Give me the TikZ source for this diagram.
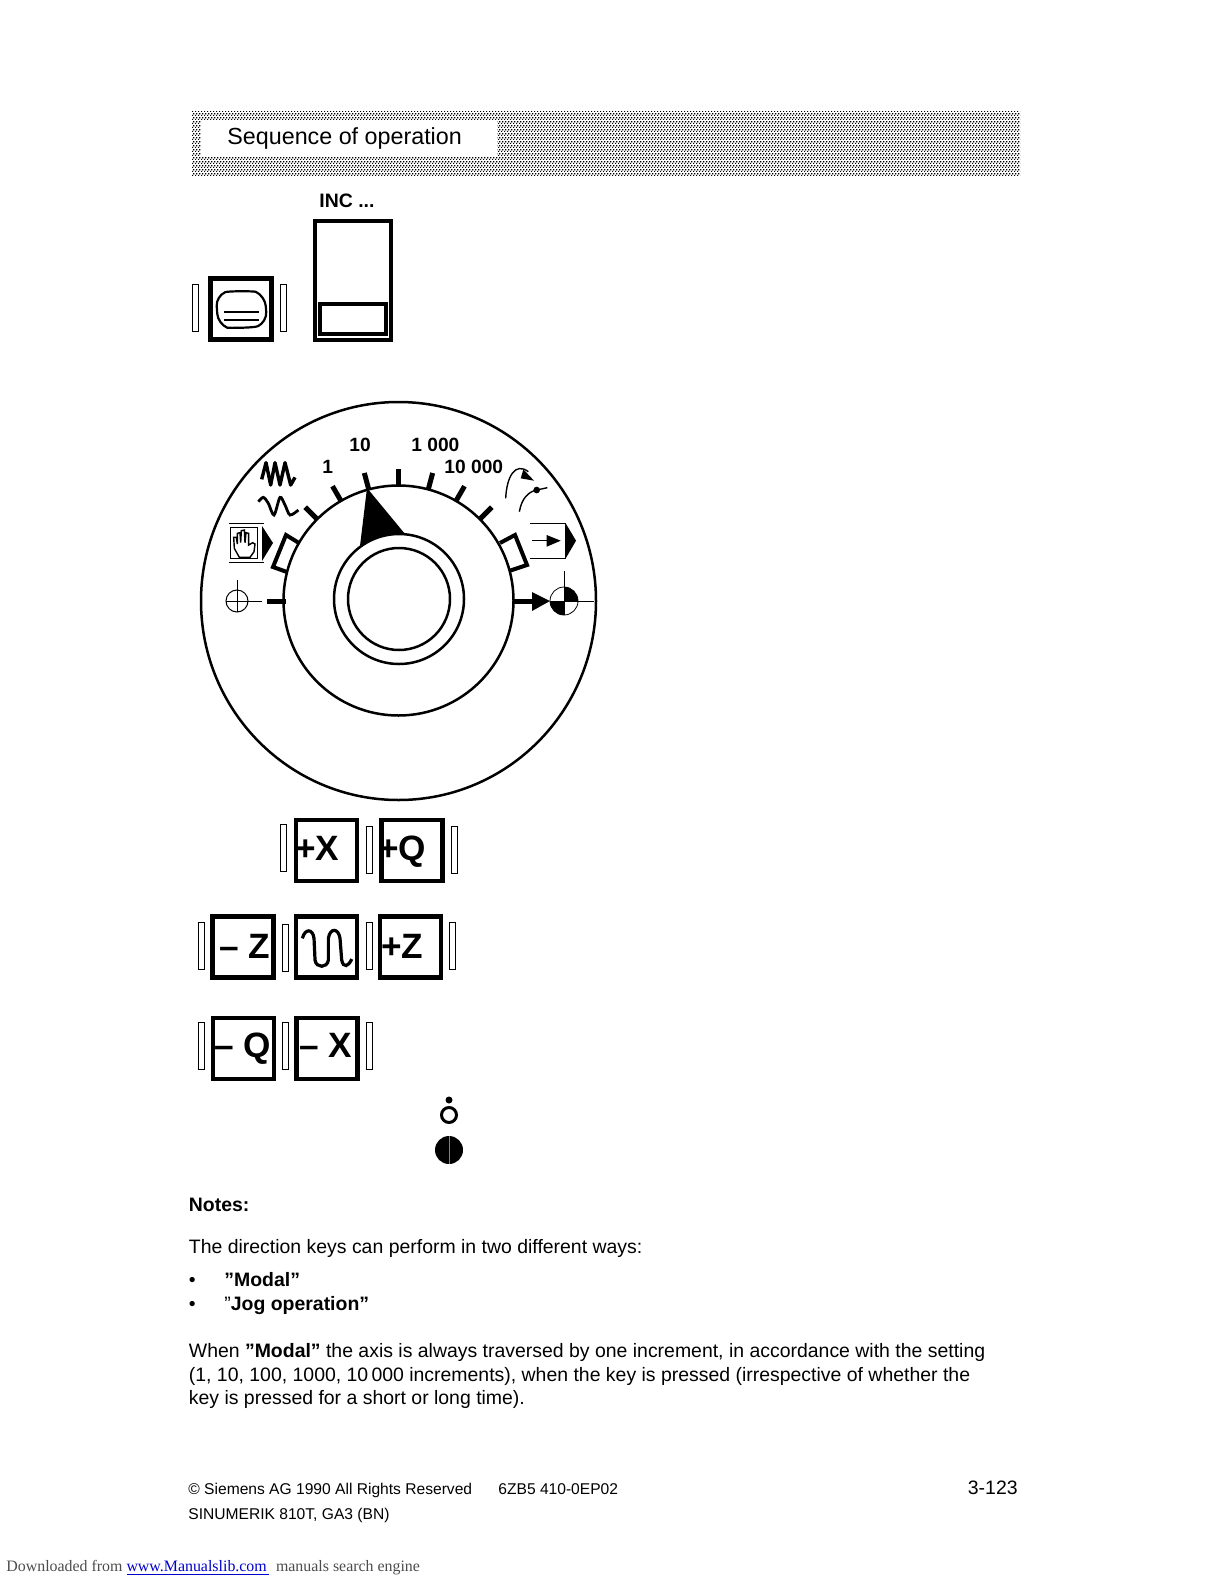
\documentclass[tikz,border=0pt]{standalone}
\usepackage{fontspec}
\setmainfont{Liberation Sans}
\newfontfamily\serifnote{Liberation Serif}
\usetikzlibrary{arrows.meta, positioning, calc, patterns}
\definecolor{linkblue}{RGB}{0, 0, 204}
\pgfdeclarepatternformonly{banddither}{\pgfpointorigin}{\pgfqpoint{1.5pt}{2pt}}{\pgfqpoint{1.5pt}{2pt}}{
	\pgfpathrectangle{\pgfqpoint{0pt}{0pt}}{\pgfqpoint{0.8pt}{0.75pt}}
	\pgfpathrectangle{\pgfqpoint{0.75pt}{1pt}}{\pgfqpoint{0.75pt}{0.75pt}}
	\pgfusepath{fill}
}
\begin{document}
\begin{tikzpicture}[
		x=0.5pt, y=0.5pt,
		txt/.style={anchor=base west, inner sep=0pt, font=\fontsize{9.72}{12}\selectfont},
		txtbold/.style={txt, font=\fontsize{9.72}{12}\selectfont\bfseries},
		smalltxt/.style={txt, font=\fontsize{7.8}{10}\selectfont},
		scalelabel/.style={anchor=base west, inner sep=0pt, font=\fontsize{9.6}{11}\selectfont\bfseries},
		keylabel/.style={anchor=base west, inner sep=0pt, font=\fontsize{17.6}{20}\selectfont\bfseries},
		keybox/.style={rectangle, draw, line width=2.2pt, minimum size=30.5pt, inner sep=0pt},
		sidebar/.style={rectangle, draw, line width=0.4pt, fill=white, minimum width=3pt, minimum height=23.5pt, inner sep=0pt},
		thinline/.style={line width=0.4pt},
		dialline/.style={line width=1.25pt}
	]
	\useasboundingbox (0,0) rectangle (1224,-1584);
	
	% Title band
	\fill[pattern=banddither] (192,-112) rectangle (1020,-176);
	\fill[white] (201,-120) rectangle (497,-157);
	\node[txt, font=\fontsize{11.65}{14}\selectfont] (title) at (227,-145) {Sequence of operation};
	
	% Mode keys
	\node[txtbold] (inc) at (319,-207) {INC ...};
	\node[sidebar] (mon_l) at (195,-308) {};
	\node[keybox] (mon) at (241,-309) {};
	\node[sidebar] (mon_r) at (283,-308) {};
	\draw[line width=1.1pt, rounded corners=5pt] (216,-296) .. controls (228,-291) and (254,-291) .. (265,-296) -- (267,-322) .. controls (254,-328) and (228,-328) .. (218,-324) -- cycle;
	\draw[line width=1.4pt] (224,-312) -- (259,-312) (224,-320) -- (259,-320);
	\draw[line width=2.2pt] (315,-221) rectangle (391,-340);
	\draw[line width=1.9pt] (320,-304) rectangle (386,-334);
	
	% Dial
	\coordinate (dial) at (398.5,-600.5);
	\coordinate (knob) at (399,-599);
	\draw[dialline] (398.5,-601) ellipse[x radius=197.5, y radius=199];
	\draw[dialline] (dial) circle[radius=115];
	\draw[dialline] (knob) circle[radius=65];
	\draw[dialline] (knob) circle[radius=51];
	\foreach \a in {45,60,75,90,105,120,135}
		\draw[line width=2.5pt] ($(dial)+(\a:115)$) -- ($(dial)+(\a:132)$);
	\fill (367,-488) -- (360,-546) arc[start angle=126, end angle=84, radius=65] -- cycle;
	\node[scalelabel] (s10) at (349,-451) {10};
	\node[scalelabel] (s1) at (322,-473) {1};
	\node[scalelabel] (s1000) at (411,-451) {1 000};
	\node[scalelabel] (s10000) at (444,-473) {10 000};
	
	% Dial positions, left side
	\draw[line width=2pt] (299,-543) -- (286,-535) -- (273,-567) -- (287,-572);
	\draw[line width=2.5pt] (267,-601) -- (286,-601);
	\draw[line width=0.5pt] (237,-601) circle[radius=11];
	\draw[thinline] (237,-580) -- (237,-612) (226,-601) -- (262,-601);
	\draw[thinline] (229,-523) -- (264,-523) (229,-562) -- (264,-562);
	\draw[thinline] (230,-527) rectangle (257,-558);
	\fill (262,-526) -- (273,-543) -- (262,-561) -- cycle;
	\begin{scope}[shift={(200,-420)}, x=0.1667pt, y=0.1667pt]
		\draw[line width=0.7pt] (118,-412) -- (103,-385) -- (101,-352) -- (109,-352) -- (112,-372) -- (112,-340) -- (120,-338) -- (122,-368) -- (124,-332) -- (133,-330) -- (135,-368) -- (138,-338) -- (146,-340) -- (146,-375) -- (158,-368) -- (165,-372) -- (162,-395) -- (150,-412) -- cycle;
		\draw[line width=1.7pt, line join=round] (185,-178) -- (198,-128) -- (212,-195) -- (225,-128) -- (240,-195) -- (255,-128) -- (272,-195) -- (285,-172);
		\draw[line width=1.4pt] plot[smooth] coordinates {(175,-245) (190,-232) (205,-250) (222,-285) (240,-232) (255,-255) (270,-285) (295,-270)};
	\end{scope}
	
	% Dial positions, right side
	\draw[line width=2pt] (500,-543) -- (515,-535) -- (527,-565) -- (509,-571);
	\draw[line width=2.5pt] (513,-601) -- (534,-601);
	\fill (532,-592) -- (550,-601) -- (532,-611) -- cycle;
	\fill (564,-601) -- (578,-601) arc[start angle=0, end angle=90, radius=14] -- cycle;
	\fill (564,-601) -- (550,-601) arc[start angle=180, end angle=270, radius=14] -- cycle;
	\draw[thinline] (564,-601) circle[radius=14];
	\draw[thinline] (564,-571) -- (564,-615) (550,-601) -- (594,-601);
	\begin{scope}[shift={(390,-420)}, x=0.1667pt, y=0.1667pt]
		\draw[line width=0.7pt] (347,-235) .. controls (350,-170) and (375,-125) .. (415,-155);
		\fill (400,-148) -- (432,-182) -- (392,-175) -- cycle;
		\draw[line width=0.7pt] (388,-275) .. controls (395,-235) and (415,-215) .. (440,-210) -- (472,-203);
		\fill (440,-210) circle[radius=10];
		\draw[thinline] (420,-310) -- (527,-310) -- (527,-415) -- (420,-415);
		\fill (527,-310) -- (558,-362) -- (527,-415) -- cycle;
		\draw[line width=0.8pt] (426,-362) -- (480,-362);
		\fill (470,-345) -- (512,-362) -- (470,-380) -- cycle;
	\end{scope}
	
	% Direction keys, first row
	\node[sidebar] (bar_a) at (283.5,-848) {};
	\node[keybox] (plusx) at (326.5,-850.5) {};
	\node[sidebar] (bar_b) at (369,-850) {};
	\node[keybox] (plusq) at (412,-850.5) {};
	\node[sidebar] (bar_c) at (454,-850) {};
	\node[keylabel] (plusx_t) at (295,-860) {+X};
	\node[keylabel] (plusq_t) at (378,-860) {+Q};
	
	% Direction keys, second row
	\node[sidebar] (bar_d) at (201.5,-946) {};
	\node[keybox] (minusz) at (243,-947) {};
	\node[sidebar] (bar_e) at (285,-948) {};
	\node[keybox] (rapid) at (326.5,-947) {};
	\node[sidebar] (bar_f) at (369,-946) {};
	\node[keybox] (plusz) at (410.5,-947) {};
	\node[sidebar] (bar_g) at (452.5,-946) {};
	\node[keylabel] (minusz_t) at (219,-958) {-- Z};
	\node[keylabel] (plusz_t) at (381,-958) {+Z};
	\begin{scope}[shift={(190,-805)}, x=0.1667pt, y=0.1667pt]
		\draw[line width=1.6pt] (337,-400) .. controls (345,-370) and (368,-370) .. (372,-400) -- (375,-465) .. controls (378,-490) and (412,-490) .. (415,-465) -- (415,-400) .. controls (420,-368) and (445,-368) .. (450,-400) -- (455,-465) .. controls (460,-490) and (475,-485) .. (485,-462);
	\end{scope}
	
	% Direction keys, third row
	\node[sidebar] (bar_h) at (201.5,-1045.5) {};
	\node[keybox] (minusq) at (243.5,-1048.5) {};
	\node[sidebar] (bar_i) at (285,-1045.5) {};
	\node[keybox] (minusx) at (327,-1048.5) {};
	\node[sidebar] (bar_j) at (369,-1045.5) {};
	\node[keylabel] (minusq_t) at (214,-1057) {-- Q};
	\node[keylabel] (minusx_t) at (299,-1057) {-- X};
	
	% Start symbol
	\fill (449,-1100) circle[radius=3.5];
	\draw[line width=1.5pt] (449,-1115) circle[radius=7.5];
	\fill (449,-1150) circle[radius=14];
	\draw[gray, line width=0.3pt] (449,-1136) -- (449,-1164);
	
	% Notes
	\node[txtbold] (notes) at (188.5,-1211) {Notes:};
	\node[txt] (intro) at (188.5,-1253) {The direction keys can perform in two different ways:};
	\node[txt] (bul_a) at (188.5,-1286) {•};
	\node[txtbold] (modal) at (224,-1286) {”Modal”};
	\node[txt] (bul_b) at (188.5,-1310) {•};
	\node[txt] (jog) at (224,-1310) {”\textbf{Jog operation”}};
	\node[txt] (line_a) at (188.5,-1357) {When \textbf{”Modal”} the axis is always traversed by one increment, in accordance with the setting};
	\node[txt] (line_b) at (188.5,-1381) {(1, 10, 100, 1000, 10\,000 increments), when the key is pressed (irrespective of whether the};
	\node[txt] (line_c) at (188.5,-1404) {key is pressed for a short or long time).};
	
	% Footer
	\node[smalltxt] (copy) at (188,-1494) {© Siemens AG 1990 All Rights Reserved};
	\node[smalltxt] (order) at (498,-1494) {6ZB5 410-0EP02};
	\node[txt] (page) at (967.5,-1494) {3-123};
	\node[smalltxt] (sinu) at (188,-1519.5) {SINUMERIK 810T, GA3 (BN)};
	\node[txt, font=\fontsize{7.95}{10}\selectfont\serifnote, text=black!70] (dl) at (6,-1571.5) {Downloaded from \textcolor{linkblue}{www.Manualslib.com}\,\, manuals search engine};
	\draw[linkblue, line width=0.4pt] ([yshift=-1.2pt]dl.base west) ++(121,0) -- ++(142,0);
\end{tikzpicture}
\end{document}
